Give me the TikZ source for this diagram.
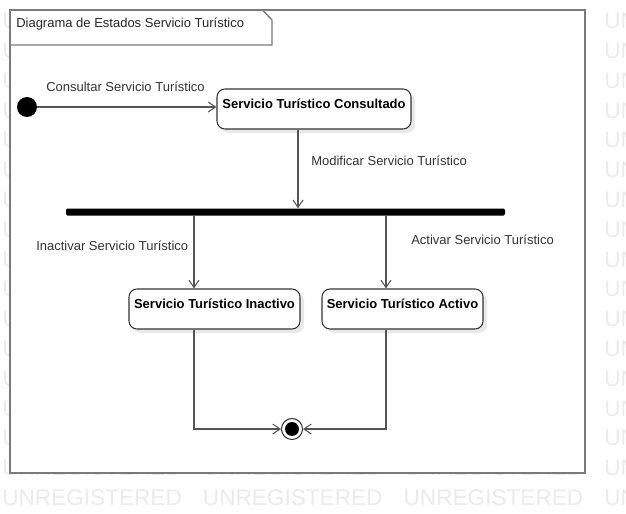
\documentclass[tikz,border=0pt]{standalone}
\usepackage{fontspec}
\setmainfont{Liberation Sans}
\usetikzlibrary{arrows.meta,shadows}
\definecolor{wmcol}{HTML}{EBEBEB}
\definecolor{framecol}{HTML}{7A7A7A}
\definecolor{linecol}{HTML}{555555}
\definecolor{labcol}{HTML}{333333}
\begin{document}
\begin{tikzpicture}[x=0.75pt,y=-0.75pt,
  wm/.style={font=\fontsize{16.95pt}{18pt}\selectfont, text=wmcol, inner sep=0pt, anchor=west},
  frame/.style={draw=framecol, line width=1.5pt},
  tabline/.style={draw=framecol, line width=1pt},
  stbox/.style={draw=black!80, line width=0.8pt, rounded corners=6pt, fill=white,
    minimum width=#1, inner xsep=0pt, inner ysep=0pt, text height=14.6pt, text depth=15.4pt,
    font=\fontsize{9.75pt}{11pt}\selectfont\bfseries,
    drop shadow={shadow xshift=3pt, shadow yshift=-3pt, fill=black!9, opacity=1}},
  tr/.style={draw=linecol, line width=0.8pt, -{Straight Barb[length=5.5pt,width=7.5pt]}},
  lab/.style={font=\fontsize{9.75pt}{11pt}\selectfont, text=labcol, inner sep=0pt, anchor=base west},
]
\useasboundingbox (0,0) rectangle (626,514);
\fill[white] (0,0) rectangle (626,514);
% watermark
\foreach \r in {0,...,16}{
  \foreach \c in {0,...,3}{
    \node[wm] (wm-\r-\c) at ({2+200.7*\c},{21+29.8*\r}) {UNREGISTERED};
  }
}
% frame
\draw[frame, fill=white] (9.5,9.5) rectangle (585,473);
\draw[tabline] (9.5,45) -- (272,45) -- (272,20) -- (262,9.5);
\node[lab, text=black!85] (title) at (16,27) {Diagrama de Estados Servicio Turístico};

% states
\node[circle, fill=black, minimum size=15pt, inner sep=0pt] (init) at (27,107) {};
\node[stbox=145.5pt] (cons) at (314,109) {Servicio Turístico Consultado};
\node[fill=black, minimum width=329.25pt, minimum height=5.25pt, inner sep=0pt, rounded corners=1pt] (bar) at (285.5,212) {};
\node[stbox=128.25pt] (inac) at (214.5,309) {Servicio Turístico Inactivo};
\node[stbox=120.75pt] (act) at (402.5,309) {Servicio Turístico Activo};
\node[circle, draw=black!80, line width=0.8pt, fill=white, minimum size=15.75pt, inner sep=0pt,
  path picture={\fill[black] (path picture bounding box.center) circle (5.25pt);}] (final) at (292,429) {};

% helper coordinates
\coordinate (c-bot) at ([xshift=-12pt]cons.south);
\coordinate (i-top) at ([xshift=-15.4pt]inac.north);
\coordinate (i-bot) at ([xshift=-15.4pt]inac.south);
\coordinate (a-top) at ([xshift=-12.4pt]act.north);
\coordinate (a-bot) at ([xshift=-12.4pt]act.south);

% transitions
\draw[tr] (init.east) -- (init.east -| cons.west);
\draw[tr] (c-bot) -- (c-bot |- bar.north);
\draw[tr] (i-top |- bar.south) -- (i-top);
\draw[tr] (a-top |- bar.south) -- (a-top);
\draw[tr] (i-bot) |- (final.west);
\draw[tr] (a-bot) |- (final.east);

% labels
\node[lab] (l-cons) at (46,91) {Consultar Servicio Turístico};
\node[lab] (l-mod) at (311,165) {Modificar Servicio Turístico};
\node[lab] (l-act) at (411,244) {Activar Servicio Turístico};
\node[lab] (l-inac) at (36,250) {Inactivar Servicio Turístico};
\end{tikzpicture}
\end{document}
